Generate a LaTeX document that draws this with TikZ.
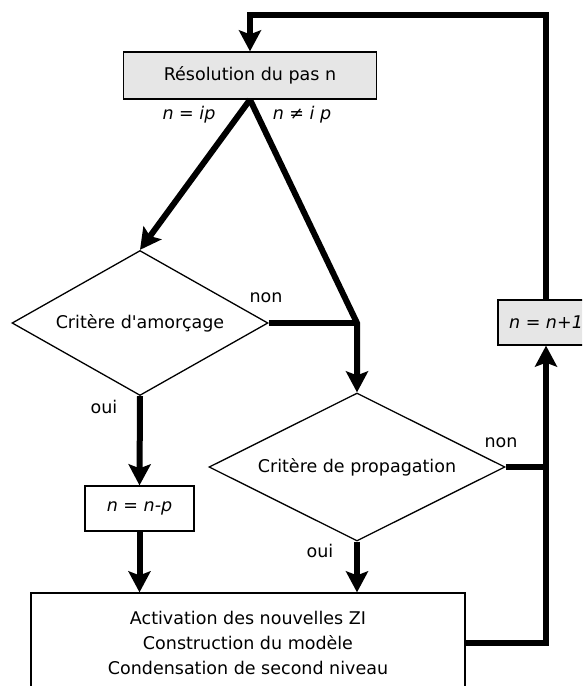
\documentclass[tikz,border=0pt]{standalone}
\usepackage{fontspec}
\setmainfont{DejaVu Sans}
\usetikzlibrary{shapes.geometric,arrows.meta}
\definecolor{boxgray}{HTML}{E6E6E6}

\begin{document}
\begin{tikzpicture}[x=1pt, y=1pt,
    every node/.style={font=\fontsize{17.5}{25}\selectfont},
    box/.style={draw, line width=1.3pt, inner sep=0pt, align=center},
    dia/.style={draw, diamond, line width=1.3pt, inner sep=0pt},
    lbl/.style={inner sep=0pt, font=\fontsize{17.5}{25}\selectfont\itshape},
    lnk/.style={line width=6pt},
    arw/.style={line width=6pt, -{Stealth[length=21pt,width=22pt,inset=4pt]}}]
  \useasboundingbox (0,0) rectangle (582,-686);
  \clip (0,0) rectangle (582,-686);
  \node[box, fill=boxgray, minimum width=253, minimum height=47] (res) at (250,-75.5) {Résolution du pas n};
  \node[dia, aspect=1.77, minimum width=256, minimum height=145] (amorc) at (140,-323) {Critère d\textquotesingle amorçage};
  \node[dia, aspect=2, minimum width=296, minimum height=148] (propag) at (357,-467) {Critère de propagation};
  \node[box, minimum width=109, minimum height=45] (nnp) at (139.5,-508.5) {\itshape n = n-p};
  \node[box, fill=boxgray, minimum width=96, minimum height=45] (nn1) at (546,-322.5) {\itshape n = n+1};
  \node[box, minimum width=434, minimum height=100] (activ) at (248,-643)
    {Activation des nouvelles ZI\\Construction du modèle\\Condensation de second niveau};
  \coordinate (j1) at (357,-323);
  \coordinate (loop) at (250,-15);
  % labels
  \node[lbl] (lip) at (189,-115) {n = ip};
  \node[lbl] (lnip) at (302,-115) {n ≠ i p};
  \node[inner sep=0pt] (non1) at (266,-298) {non};
  \node[inner sep=0pt] (oui1) at (104,-407) {oui};
  \node[inner sep=0pt] (non2) at (501,-443) {non};
  \node[inner sep=0pt] (oui2) at (320,-551) {oui};
  % connectors
  \draw[arw] (res.south) -- (amorc.north);
  \draw[arw] (res.south) -- (j1) -- (propag.north);
  \draw[lnk] (amorc.east) -- (j1);
  \draw[arw] (amorc.south) -- (nnp.north);
  \draw[arw] (nnp.south) -- (nnp.south |- activ.north);
  \draw[arw] (propag.south) -- (propag.south |- activ.north);
  \draw[lnk] (propag.east) -- (propag.east -| nn1.south);
  \draw[arw] (activ.east) -| (nn1.south);
  \draw[arw] (nn1.north) |- (loop) -- (res.north);
\end{tikzpicture}
\end{document}
